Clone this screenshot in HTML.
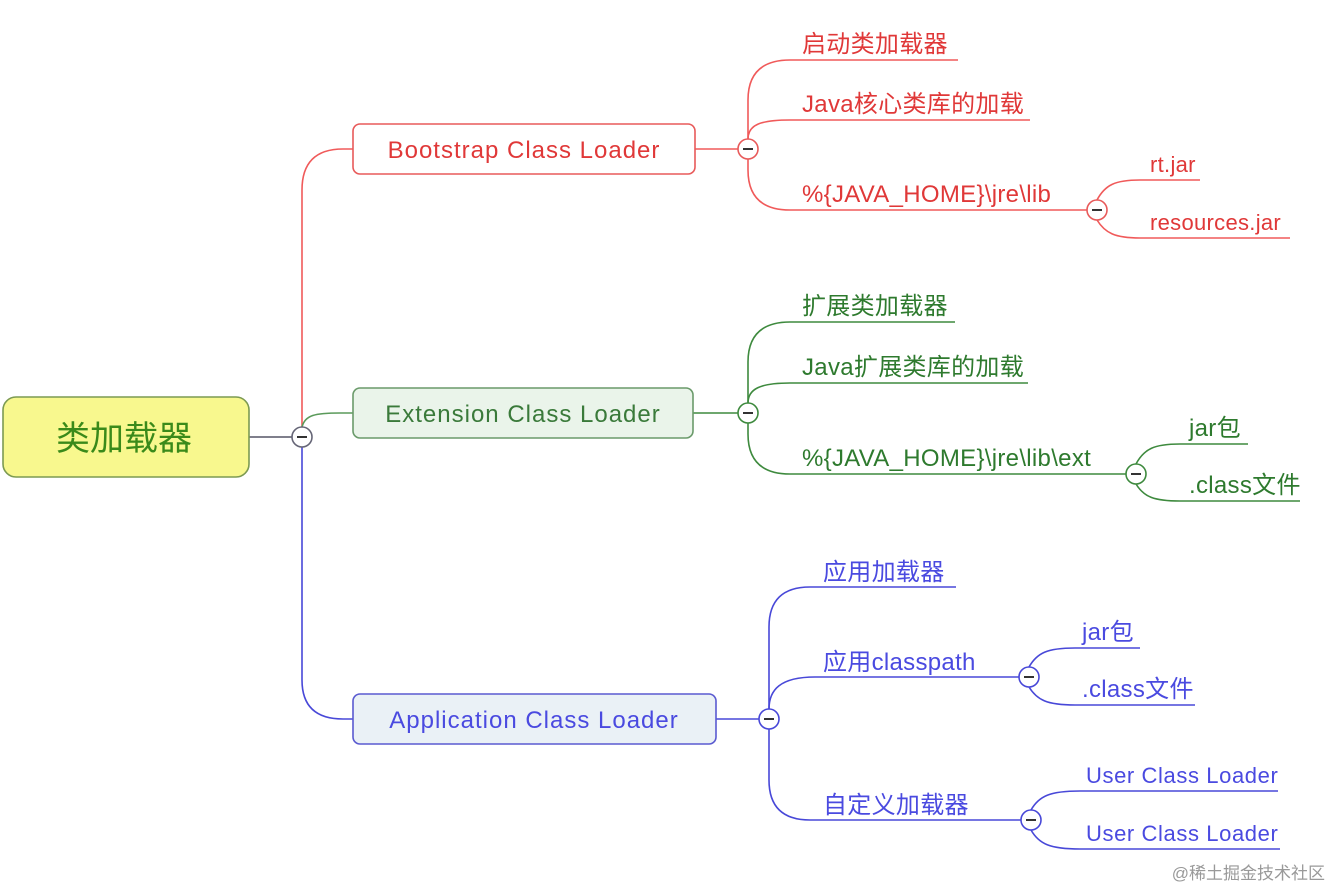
<!DOCTYPE html>
<html><head><meta charset="utf-8"><style>
html,body{margin:0;padding:0;background:#fff;}
svg{display:block;}
text{font-family:"Liberation Sans","Noto Sans CJK SC",sans-serif;}
</style></head><body>
<svg width="1332" height="889" viewBox="0 0 1332 889" xmlns="http://www.w3.org/2000/svg">
<g fill="none" stroke-width="1.6">
<path d="M249,437 H292" stroke="#556"/>
<path d="M302,427 V190 Q302,149 343,149 H353" stroke="#f05a5a"/>
<path d="M302,427 C305,415 315,413 340,413 H353" stroke="#5a9a5a"/>
<path d="M302,447 V680 Q302,719 343,719 H353" stroke="#4848d8"/>
<g stroke="#f05a5a">
<path d="M695,149 H738"/>
<path d="M748,139 V100 Q748,60 790,60 H958"/>
<path d="M748,139 C748,125 760,120 790,120 H1030"/>
<path d="M748,159 V170 Q748,210 790,210 H1087"/>
<path d="M1097,200 C1105,185 1115,180 1140,180 H1200"/>
<path d="M1097,220 C1105,233 1115,238 1140,238 H1290"/>
</g>
<g stroke="#3e8a3e">
<path d="M693,413 H738"/>
<path d="M748,403 V362 Q748,322 790,322 H955"/>
<path d="M748,403 C748,389 760,383 790,383 H1028"/>
<path d="M748,423 V434 Q748,474 790,474 H1126"/>
<path d="M1136,464 C1144,449 1154,444 1180,444 H1248"/>
<path d="M1136,484 C1144,497 1154,501 1180,501 H1300"/>
</g>
<g stroke="#4848d8">
<path d="M716,719 H759"/>
<path d="M769,709 V627 Q769,587 810,587 H956"/>
<path d="M769,709 C769,690 780,677 815,677 H1019"/>
<path d="M769,729 V780 Q769,820 810,820 H1021"/>
<path d="M1029,667 C1037,653 1047,648 1075,648 H1140"/>
<path d="M1029,687 C1037,700 1047,705 1075,705 H1195"/>
<path d="M1031,810 C1039,796 1050,791 1080,791 H1278"/>
<path d="M1031,830 C1039,844 1050,849 1080,849 H1280"/>
</g>
</g>
<rect x="3" y="397" width="246" height="80" rx="13" fill="#f8f88e" stroke="#7c9a52" stroke-width="1.6"/>
<text x="124" y="450" font-size="34" fill="#3a8a1a" text-anchor="middle">类加载器</text>
<g font-size="24" letter-spacing="1">
<rect x="353" y="124" width="342" height="50" rx="7" fill="#fff" stroke="#e85a5a" stroke-width="1.6"/>
<text x="524" y="158" fill="#e03838" text-anchor="middle">Bootstrap Class Loader</text>
<rect x="353" y="388" width="340" height="50" rx="7" fill="#eaf4ea" stroke="#6a9a6a" stroke-width="1.6"/>
<text x="523" y="422" fill="#3a7a3a" text-anchor="middle">Extension Class Loader</text>
<rect x="353" y="694" width="363" height="50" rx="7" fill="#eaf1f6" stroke="#5a5ad0" stroke-width="1.6"/>
<text x="534" y="728" fill="#4a4ae0" text-anchor="middle">Application Class Loader</text>
</g>
<g fill="#fff" stroke-width="1.6">
<circle cx="302" cy="437" r="10" stroke="#667"/>
<circle cx="748" cy="149" r="10" stroke="#e85a5a"/>
<circle cx="1097" cy="210" r="10" stroke="#e85a5a"/>
<circle cx="748" cy="413" r="10" stroke="#3e8a3e"/>
<circle cx="1136" cy="474" r="10" stroke="#3e8a3e"/>
<circle cx="769" cy="719" r="10" stroke="#4848d8"/>
<circle cx="1029" cy="677" r="10" stroke="#4848d8"/>
<circle cx="1031" cy="820" r="10" stroke="#4848d8"/>
</g>
<g stroke="#333" stroke-width="2">
<path d="M297,437 H307"/><path d="M743,149 H753"/><path d="M1092,210 H1102"/>
<path d="M743,413 H753"/><path d="M1131,474 H1141"/><path d="M764,719 H774"/>
<path d="M1024,677 H1034"/><path d="M1026,820 H1036"/>
</g>
<g font-size="24" letter-spacing="0.3" fill="#e03838">
<text x="802" y="52">启动类加载器</text>
<text x="802" y="112">Java核心类库的加载</text>
<text x="802" y="202">%{JAVA_HOME}\jre\lib</text>
<text x="1150" y="172" font-size="22">rt.jar</text>
<text x="1150" y="230" font-size="22">resources.jar</text>
</g>
<g font-size="24" letter-spacing="0.3" fill="#2e7a2e">
<text x="802" y="314">扩展类加载器</text>
<text x="802" y="375">Java扩展类库的加载</text>
<text x="802" y="466">%{JAVA_HOME}\jre\lib\ext</text>
<text x="1189" y="436">jar包</text>
<text x="1189" y="493">.class文件</text>
</g>
<g font-size="24" letter-spacing="0.3" fill="#4a4ae0">
<text x="823" y="580">应用加载器</text>
<text x="823" y="670">应用classpath</text>
<text x="823" y="813">自定义加载器</text>
<text x="1082" y="640">jar包</text>
<text x="1082" y="697">.class文件</text>
<text x="1086" y="783" font-size="22" letter-spacing="0.6">User Class Loader</text>
<text x="1086" y="841" font-size="22" letter-spacing="0.6">User Class Loader</text>
</g>
<text x="1325" y="879" font-size="17" fill="#999" text-anchor="end">@稀土掘金技术社区</text>
</svg>
</body></html>
